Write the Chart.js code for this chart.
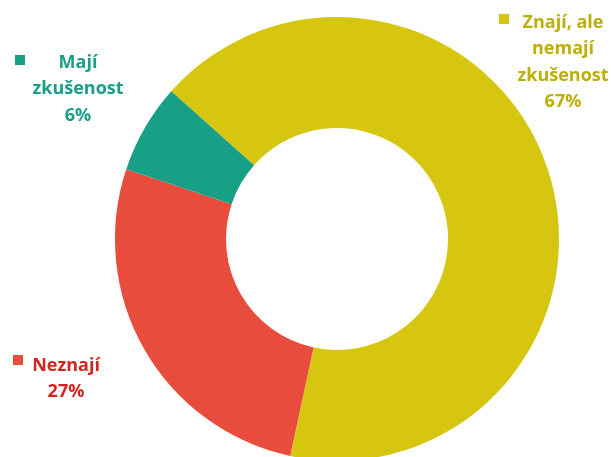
<!DOCTYPE html>
<html>
<head>
<meta charset="utf-8">
<script src="https://cdn.jsdelivr.net/npm/chart.js@4/dist/chart.umd.min.js"></script>
<style>
  html, body { margin: 0; padding: 0; background: #fff; overflow: hidden; }
  #wrap { width: 611px; height: 470px; }
</style>
</head>
<body>
<div id="wrap"><canvas id="chart-knowledge"></canvas></div>
<script>
// ── Données ───────────────────────────────────────────────────────────────────
const categories   = ['Znají, ale nemají zkušenost', 'Neznají', 'Mají zkušenost'];
const shares       = [66.8, 26.7, 6.5];
const shareLabels  = ['67%', '27%', '6%'];
const sliceColors  = ['#D6C60F', '#E74C3C', '#17A085'];
const textColors   = ['#BDAE08', '#D32424', '#1A9E87'];

// ── Étiquettes (carré + texte multi-lignes) ───────────────────────────────────
const labelSpots = [
  { lines: ['Znají, ale', 'nemají', 'zkušenost'], box: [499, 14], cx: 563, y: 23 },
  { lines: ['Neznají'],                           box: [13, 355], cx: 66,  y: 366 },
  { lines: ['Mají', 'zkušenost'],                 box: [15, 55],  cx: 78,  y: 63 },
];

const outsideLabels = {
  id: 'outsideLabels',
  afterDraw(chart) {
    const ctx = chart.ctx;
    ctx.save();
    ctx.font = "bold 18px 'Open Sans', 'DejaVu Sans', sans-serif";
    ctx.textAlign = 'center';
    ctx.textBaseline = 'middle';
    labelSpots.forEach((s, i) => {
      ctx.fillStyle = sliceColors[i];
      ctx.fillRect(s.box[0], s.box[1], 10, 10);
      ctx.fillStyle = textColors[i];
      const lines = [...s.lines, shareLabels[i]];
      lines.forEach((t, k) => ctx.fillText(t, s.cx, s.y + k * 26.2));
    });
    ctx.restore();
  }
};

new Chart(document.getElementById('chart-knowledge'), {
  type: 'doughnut',
  data: {
    labels: categories,
    datasets: [{
      data: shares,
      backgroundColor: sliceColors,
      borderWidth: 0,
    }],
  },
  options: {
    responsive: true,
    maintainAspectRatio: false,
    animation: false,
    cutout: '50%',
    rotation: -48.3,
    layout: { padding: { left: 115, top: 17, right: 52, bottom: 9 } },
    plugins: { legend: { display: false }, tooltip: { enabled: false } },
  },
  plugins: [outsideLabels],
});
</script>
</body>
</html>
